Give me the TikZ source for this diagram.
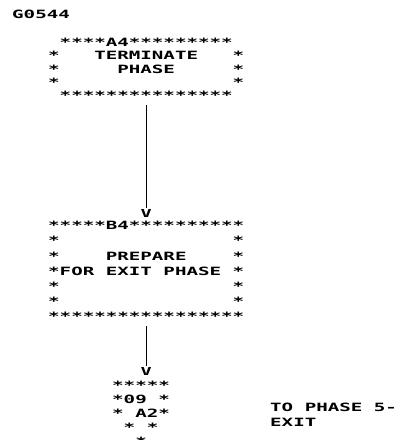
\documentclass[tikz,border=0pt]{standalone}
\usepackage{fontspec}
\newfontfamily\prt[FakeStretch=1.68,UprightFont=* Bold]{DejaVu Sans Mono}
\usetikzlibrary{positioning}

\begin{document}
\begin{tikzpicture}[x=1pt,y=1pt,
    box/.style={font={\prt\fontsize{11.4}{13.3}\selectfont},align=left,inner sep=0pt,anchor=north west},
    head/.style={font={\prt\fontsize{11}{13}\selectfont},inner sep=0pt},
    link/.style={line width=1.4pt,shorten <=5pt,shorten >=1pt}]
    \useasboundingbox (0,0) rectangle (417,-440);
    \node[box] (id) at (12,-10) {G0544};
    \node[box] (a4) at (48,-38) {~****A4*********~\\*~~~TERMINATE~~~*\\*~~~~~PHASE~~~~~*\\*~~~~~~~~~~~~~~~*\\~***************~};
    \node[box,font={\prt\fontsize{11.4}{15.2}\selectfont}] (b4) at (48,-221) {*****B4**********\\*~~~~~~~~~~~~~~~*\\*~~~~PREPARE~~~~*\\*FOR~EXIT~PHASE~*\\*~~~~~~~~~~~~~~~*\\*~~~~~~~~~~~~~~~*\\*****************};
    \node[head] (v1) at (a4.south |- 0,-213) {V};
    \node[head] (v2) at (b4.south |- 0,-371) {V};
    \node[box,font={\prt\fontsize{11.4}{14}\selectfont}] (a2) at (112,-381) {*****\\*09~*\\*~A2*\\~*~*\\~~*};
    \node[box,font={\prt\fontsize{11.4}{15}\selectfont}] (exit) at (270,-403) {TO~PHASE~5-\\EXIT};
    \draw[link] (a4.south) -- (v1.north);
    \draw[link] (b4.south) -- (v2.north);
\end{tikzpicture}
\end{document}
